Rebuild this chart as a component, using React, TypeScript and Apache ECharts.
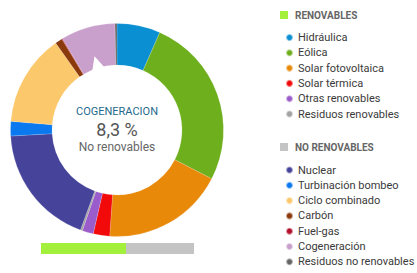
import React, { useEffect, useRef } from "react";
import * as echarts from "echarts";

const renovables = ["Hidráulica", "Eólica", "Solar fotovoltaica", "Solar térmica", "Otras renovables", "Residuos renovables"];
const renovablesValues = [6.6, 26.1, 18.6, 2.5, 1.7, 0.3];
const renovablesColors = ["#0a8fd2", "#6eaf1e", "#e8890a", "#f20a0a", "#9b5ccb", "#a3a3a3"];

const noRenovables = ["Nuclear", "Turbinación bombeo", "Ciclo combinado", "Carbón", "Fuel-gas", "Cogeneración", "Residuos no renovables"];
const noRenovablesValues = [18.6, 2.2, 14.0, 1.1, 0.1, 8.3, 0.3];
const noRenovablesColors = ["#46449a", "#0a78ee", "#fcc86c", "#8b3a0c", "#b3102c", "#c9a0cc", "#666666"];

const groupLabels = ["RENOVABLES", "NO RENOVABLES"];
const groupColors = ["#a2f03c", "#c4c4c4"];

const centerTitle = "COGENERACION";
const centerValue = "8,3 %";
const centerSub = "No renovables";

const FONT = "Roboto, 'DejaVu Sans', sans-serif";

export default function App() {
  const ref = useRef<HTMLDivElement>(null);
  useEffect(() => {
    if (!ref.current) return;
    const chart = echarts.init(ref.current, null, { renderer: "svg" });
    const cx = 117, cy = 130, rIn = 65, rOut = 106.5;
    const pieData = [
      ...renovables.map((n, i) => ({ name: n, value: renovablesValues[i], itemStyle: { color: renovablesColors[i] } })),
      ...noRenovables.map((n, i) => ({ name: n, value: noRenovablesValues[i], itemStyle: { color: noRenovablesColors[i] } })),
    ];
    const sumR = renovablesValues.reduce((a, b) => a + b, 0);
    const sumN = noRenovablesValues.reduce((a, b) => a + b, 0);
    const a = (343 * Math.PI) / 180;
    const pt = (ang: number, r: number) => [cx + r * Math.sin(ang), cy - r * Math.cos(ang)];
    const d = (8 * Math.PI) / 180;
    const legendText = { fontFamily: FONT, fontSize: 11, color: "#3a3a3a", lineHeight: 12 };
    const legendBase = {
      orient: "vertical",
      left: 280,
      height: 200,
      itemWidth: 7,
      itemHeight: 7,
      itemGap: 3.3,
      icon: "circle",
      selectedMode: false,
      textStyle: legendText,
    };
    chart.setOption({
      animation: false,
      backgroundColor: "#ffffff",
      grid: { left: 41, top: 243, width: 153, height: 11 },
      xAxis: { type: "value", min: 0, max: sumR + sumN, show: false },
      yAxis: { type: "category", data: ["total"], show: false },
      legend: [
        { ...legendBase, data: renovables, top: 26.5 },
        { ...legendBase, data: noRenovables, top: 159 },
      ],
      series: [
        {
          type: "pie",
          center: [cx, cy],
          radius: [rIn, rOut],
          startAngle: 90,
          clockwise: true,
          label: { show: false },
          labelLine: { show: false },
          emphasis: { disabled: true },
          itemStyle: { borderColor: "rgba(255,255,255,0.5)", borderWidth: 0.3 },
          data: pieData,
        },
        {
          type: "bar",
          stack: "t",
          name: groupLabels[0],
          data: [sumR],
          barWidth: 11,
          itemStyle: { color: groupColors[0] },
        },
        {
          type: "bar",
          stack: "t",
          name: groupLabels[1],
          data: [sumN],
          barWidth: 11,
          itemStyle: { color: groupColors[1] },
        },
      ],
      graphic: [
        {
          type: "polygon",
          shape: { points: [pt(a, 77), pt(a - d, 60), pt(a + d, 60)] },
          style: { fill: "#ffffff" },
          z: 100,
        },
        {
          type: "text",
          x: cx,
          y: 111,
          style: { text: centerTitle, fill: "#1f6a8c", font: `11px ${FONT}`, textAlign: "center", textVerticalAlign: "middle" },
          z: 101,
        },
        {
          type: "text",
          x: cx,
          y: 129,
          style: { text: centerValue, fill: "#555555", font: `18px ${FONT}`, textAlign: "center", textVerticalAlign: "middle" },
          z: 101,
        },
        {
          type: "text",
          x: cx,
          y: 147,
          style: { text: centerSub, fill: "#666666", font: `12px ${FONT}`, textAlign: "center", textVerticalAlign: "middle" },
          z: 101,
        },
        { type: "rect", shape: { x: 280, y: 11, width: 8, height: 8 }, style: { fill: groupColors[0] } },
        {
          type: "text",
          x: 295,
          y: 15,
          style: { text: groupLabels[0], fill: "#666666", font: `bold 10px ${FONT}`, textVerticalAlign: "middle" },
        },
        { type: "rect", shape: { x: 280, y: 143, width: 8, height: 8 }, style: { fill: groupColors[1] } },
        {
          type: "text",
          x: 295,
          y: 147,
          style: { text: groupLabels[1], fill: "#666666", font: `bold 10px ${FONT}`, textVerticalAlign: "middle" },
        },
      ],
    });
    return () => chart.dispose();
  }, []);
  return <div ref={ref} style={{ position: "fixed", left: 0, top: 0, width: 417, height: 273 }} />;
}
